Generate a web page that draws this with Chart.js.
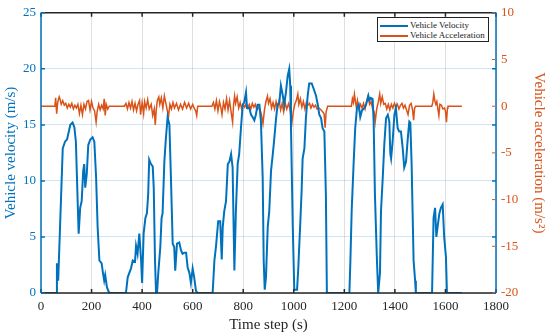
<!DOCTYPE html>
<html>
<head>
<meta charset="utf-8">
<script src="https://cdn.jsdelivr.net/npm/chart.js@4.4.1/dist/chart.umd.min.js"></script>
<style>
  html, body { margin: 0; padding: 0; background: #fff; }
  #wrap { position: relative; width: 550px; height: 336px; }
  #legend {
    position: absolute; left: 377px; top: 17px; width: 110px; height: 23px;
    border: 1px solid #222; background: #fff;
    font-family: "Liberation Serif", "Times New Roman", serif; font-size: 9px; color: #222;
  }
  #legend .row { position: absolute; left: 2px; height: 10px; line-height: 10px; white-space: nowrap; }
  #legend .swatch { display: inline-block; width: 28px; height: 2px; vertical-align: middle; margin-right: 2px; }
</style>
</head>
<body>
<div id="wrap">
  <canvas id="chart" width="550" height="336"></canvas>
  <div id="legend">
    <div class="row" style="top:2px"><span class="swatch" style="background:#0072BD"></span>Vehicle Velocity</div>
    <div class="row" style="top:12px"><span class="swatch" style="background:#D95319"></span>Vehicle Acceleration</div>
  </div>
</div>
<script>
const blue = '#0072BD';
const orange = '#D95319';

// x axis tick labels (time step, s)
const xTicks = [0, 200, 400, 600, 800, 1000, 1200, 1400, 1600, 1800];
const velocityTicks = [0, 5, 10, 15, 20, 25];
const accelTicks = [-20, -15, -10, -5, 0, 5, 10];

// vehicle velocity (m/s), [time, value]
const velocity = [
  [0,0],[61,0],[63,2.65],[68,1.1],[86,12.9],[95,13.5],[103,13.7],[116,15.0],[125,15.2],[132,14.8],
  [138,13.5],[145,8.2],[149,5.3],[155,7.6],[161,8.2],[167,10.9],[171,11.5],[175,9.4],[181,10.6],
  [187,13.2],[195,13.7],[204,13.9],[211,13.5],[218,10.3],[224,5.9],[231,2.9],[240,2.65],[245,1.8],
  [250,1.1],[254,1.6],[261,0.5],[270,0],[336,0],[343,1.4],[356,2.2],[363,2.9],[372,2.8],[376,4.2],
  [382,3.5],[389,5.3],[396,2.9],[400,0.9],[406,5.3],[413,6.7],[419,7.1],[424,8.8],[428,11.9],
  [435,11.5],[442,11.3],[446,9.4],[451,2.9],[455,0.1],[459,0],[464,1.8],[472,4.1],[477,6.7],
  [481,7.1],[488,11.7],[494,13.8],[501,15.7],[508,15.0],[514,10.3],[521,4.4],[527,4.1],[531,2.0],
  [538,4.4],[547,4.5],[554,3.8],[560,3.5],[567,3.6],[574,3.6],[580,2.3],[587,1.8],[593,0.9],
  [600,2.2],[606,1.4],[613,0.2],[620,0],[679,0],[686,2.9],[692,4.1],[701,6.4],[709,6.4],[715,3.0],
  [719,5.9],[725,7.3],[732,8.2],[739,11.5],[745,11.7],[752,12.4],[758,11.2],[765,2.0],[771,7.3],
  [778,11.5],[784,12.4],[791,14.7],[798,16.8],[804,17.0],[811,17.9],[815,16.5],[824,16.5],
  [831,15.9],[837,15.7],[844,15.4],[850,15.9],[857,16.8],[864,16.8],[870,15.3],[877,10.3],
  [881,2.9],[885,0.3],[890,1.4],[897,5.9],[903,7.3],[910,10.9],[917,12.4],[923,13.8],[930,15.6],
  [936,16.8],[943,17.0],[949,18.5],[956,17.7],[962,16.8],[969,17.9],[976,19.4],[982,20.0],
  [986,18.5],[989,14.7],[996,5.9],[1002,0.3],[1013,0.3],[1018,2.3],[1026,6.4],[1031,9.1],
  [1035,12.0],[1042,12.9],[1048,15.6],[1055,17.6],[1061,18.7],[1071,18.7],[1079,18.2],[1088,17.6],
  [1095,16.8],[1101,15.9],[1108,15.6],[1114,14.7],[1121,14.4],[1127,8.8],[1131,0],[1220,0],
  [1224,2.9],[1229,7.3],[1237,11.7],[1243,14.7],[1250,16.5],[1257,16.8],[1263,15.7],[1270,16.3],
  [1279,16.5],[1286,16.8],[1295,17.6],[1299,17.2],[1305,17.4],[1312,17.3],[1316,15.3],[1321,8.8],
  [1329,2.9],[1334,0],[1341,1.8],[1345,7.3],[1352,10.3],[1358,13.2],[1365,15.6],[1372,15.9],
  [1378,15.3],[1382,12.4],[1385,12.0],[1391,13.5],[1398,15.9],[1404,16.5],[1411,14.7],[1417,14.4],
  [1424,14.4],[1431,12.9],[1437,11.2],[1444,11.7],[1451,13.8],[1457,15.3],[1461,15.2],[1466,11.7],
  [1470,7.3],[1474,2.9],[1480,1.1],[1483,0],[1547,0],[1553,6.7],[1559,7.6],[1564,5.0],[1569,5.9],
  [1576,7.1],[1582,7.6],[1589,7.9],[1595,5.0],[1602,3.2],[1606,0],[1665,0]
];

// vehicle acceleration (m/s^2), [time, value]
const acceleration = [
  [0,0],[55,0],[58,0.9],[62,-0.8],[66,0.4],[72,1.0],[76,0.7],[80,0.2],[86,0.6],[92,0.1],[98,0.3],
  [104,-0.2],[110,0.2],[116,-0.1],[122,0.3],[128,-0.3],[134,0.1],[140,-0.2],[146,0.2],[152,-0.8],
  [158,0.1],[164,-0.9],[170,0.2],[176,-0.3],[182,0.5],[188,0.6],[194,-0.4],[200,0.5],[206,-0.2],
  [212,-0.5],[218,-1.7],[222,-0.6],[228,0.2],[234,-0.4],[240,0.1],[246,-0.3],[250,0.8],[254,-1.0],
  [258,0.2],[264,-0.3],[270,0],[330,0],[336,0.3],[342,-0.3],[348,0.4],[354,-0.2],[360,0.5],
  [366,-0.4],[372,0.3],[378,-0.5],[384,0.2],[390,0.6],[394,-0.9],[400,0.4],[406,-0.8],[410,0.5],
  [416,-0.2],[422,0.7],[428,-0.3],[436,0.2],[442,-1.0],[448,-0.3],[452,-2.0],[456,-0.4],[460,0.6],
  [466,1.0],[470,0.2],[476,0.9],[482,-0.2],[488,1.1],[494,0.3],[500,-0.5],[504,-1.2],[510,0.2],
  [516,-0.3],[522,0.4],[528,-0.2],[536,0.3],[544,-0.4],[552,0.2],[560,-0.3],[568,0.4],[576,-0.2],
  [584,0.3],[592,-0.3],[600,0.2],[606,-0.2],[612,-0.5],[616,-1.0],[620,0],[676,0],[682,0.4],
  [688,-0.3],[694,0.6],[700,-0.5],[706,0.5],[712,-0.2],[716,-0.9],[722,0.4],[728,-0.3],[734,0.8],
  [740,-0.4],[746,0.6],[752,-0.6],[758,-1.7],[762,0.2],[766,1.1],[770,0.3],[776,1.0],[782,-0.2],
  [788,0.4],[794,-0.3],[800,0.2],[806,-0.1],[812,0.3],[818,-0.2],[824,0.2],[830,-0.3],[836,0.3],
  [842,-0.1],[848,0.2],[854,-0.4],[860,-0.2],[866,-0.3],[872,-0.9],[878,-1.9],[884,-0.4],[890,0.5],
  [896,1.1],[900,0.3],[906,0.8],[912,-0.2],[918,0.4],[924,-0.3],[930,0.5],[936,-0.2],[942,0.6],
  [948,-0.4],[954,0.3],[960,-0.6],[966,0.4],[972,-0.3],[980,0.3],[986,-0.5],[992,-1.9],[998,-0.6],
  [1004,0.2],[1010,0.6],[1016,1.3],[1020,0.2],[1026,0.8],[1032,-0.1],[1038,0.5],[1044,-0.3],
  [1050,0.4],[1056,0.1],[1062,0.3],[1068,-0.2],[1074,0.2],[1080,-0.1],[1086,0.1],[1092,-0.3],
  [1100,-0.2],[1108,-0.4],[1114,-0.6],[1120,-0.8],[1124,-2.3],[1128,-0.6],[1134,0],[1228,0],
  [1232,0.8],[1236,0.4],[1240,1.3],[1244,0.5],[1248,-0.2],[1252,0.6],[1258,-0.3],[1264,0.2],
  [1270,-0.2],[1276,0.3],[1282,-0.3],[1288,0.5],[1294,1.1],[1300,0.2],[1306,0.5],[1312,-0.3],
  [1318,-0.6],[1322,-1.7],[1328,-0.3],[1334,0.4],[1340,1.3],[1344,0.3],[1350,1.0],[1356,0.2],
  [1362,0.3],[1368,-0.3],[1374,0.2],[1380,-0.4],[1386,0.2],[1392,-0.2],[1398,0.3],[1404,-0.1],
  [1410,0.2],[1416,-0.3],[1422,0.1],[1428,0.3],[1434,-0.2],[1440,0.1],[1446,-0.4],[1452,-0.9],
  [1458,0.1],[1464,0.3],[1470,-0.4],[1474,-1.5],[1478,-0.2],[1482,0],[1546,0],[1550,0.4],
  [1554,1.3],[1558,0.6],[1562,0.2],[1566,0.5],[1570,-0.3],[1574,-1.0],[1578,0.2],[1584,0.1],
  [1590,-0.3],[1596,-0.2],[1600,-0.5],[1604,-1.7],[1608,-0.2],[1610,0],[1665,0]
];

const serif = "'Liberation Serif', 'Times New Roman', serif";
const plain = v => String(v);

// box round the plot, with the ticks pointing inward like the original
const framePlugin = {
  id: 'frame',
  afterDraw(chart) {
    const { ctx, chartArea: a, scales } = chart;
    ctx.save();
    ctx.lineWidth = 1.5;

    ctx.strokeStyle = '#262626';
    ctx.beginPath();
    ctx.moveTo(a.left, a.top); ctx.lineTo(a.right, a.top);
    ctx.moveTo(a.left, a.bottom); ctx.lineTo(a.right, a.bottom);
    xTicks.forEach(v => {
      const px = scales.x.getPixelForValue(v);
      ctx.moveTo(px, a.bottom); ctx.lineTo(px, a.bottom - 4);
      ctx.moveTo(px, a.top); ctx.lineTo(px, a.top + 4);
    });
    ctx.stroke();

    ctx.strokeStyle = blue;
    ctx.beginPath();
    ctx.moveTo(a.left, a.top); ctx.lineTo(a.left, a.bottom);
    ctx.moveTo(a.right, a.top); ctx.lineTo(a.right, a.bottom);
    velocityTicks.forEach(v => {
      const py = scales.y.getPixelForValue(v);
      ctx.moveTo(a.left, py); ctx.lineTo(a.left + 4, py);
      ctx.moveTo(a.right, py); ctx.lineTo(a.right - 4, py);
    });
    ctx.stroke();

    ctx.strokeStyle = orange;
    ctx.lineWidth = 1;
    ctx.beginPath();
    accelTicks.forEach(v => {
      const py = scales.y1.getPixelForValue(v);
      ctx.moveTo(a.right - 1, py); ctx.lineTo(a.right - 4, py);
    });
    ctx.stroke();
    ctx.restore();
  }
};

new Chart(document.getElementById('chart'), {
  type: 'line',
  data: {
    datasets: [
      {
        label: 'Vehicle Velocity',
        data: velocity.map(p => ({ x: p[0], y: p[1] })),
        borderColor: blue,
        borderWidth: 2,
        pointRadius: 0,
        tension: 0,
        yAxisID: 'y',
        order: 1
      },
      {
        label: 'Vehicle Acceleration',
        data: acceleration.map(p => ({ x: p[0], y: p[1] })),
        borderColor: orange,
        borderWidth: 1.5,
        pointRadius: 0,
        tension: 0,
        yAxisID: 'y1',
        order: 2
      }
    ]
  },
  options: {
    responsive: false,
    animation: false,
    devicePixelRatio: 1,
    layout: { padding: { top: 10, left: 0, right: 0, bottom: 0 } },
    plugins: { legend: { display: false }, tooltip: { enabled: false } },
    scales: {
      x: {
        type: 'linear',
        min: 0, max: 1800,
        afterBuildTicks: s => { s.ticks = xTicks.map(v => ({ value: v })); },
        afterFit: s => { s.height = 43; },
        grid: { color: 'rgba(38,38,38,0.15)', lineWidth: 1, drawTicks: false },
        border: { display: false },
        ticks: { color: '#262626', font: { family: serif, size: 13 }, padding: 6, maxRotation: 0, callback: plain },
        title: { display: true, text: 'Time step (s)', color: '#262626', font: { family: serif, size: 15 }, padding: { top: 0, bottom: 2 } }
      },
      y: {
        position: 'left',
        min: 0, max: 25,
        afterBuildTicks: s => { s.ticks = velocityTicks.map(v => ({ value: v })); },
        afterFit: s => { s.width = 41; },
        grid: { color: 'rgba(0,114,189,0.18)', lineWidth: 1, drawTicks: false },
        border: { display: false },
        ticks: { color: blue, font: { family: serif, size: 13 }, padding: 5, callback: plain },
        title: { display: true, text: 'Vehicle velocity (m/s)', color: blue, font: { family: serif, size: 15 }, padding: { top: 2, bottom: 0 } }
      },
      y1: {
        position: 'right',
        min: -20, max: 10,
        afterBuildTicks: s => { s.ticks = accelTicks.map(v => ({ value: v })); },
        afterFit: s => { s.width = 54; },
        grid: { display: false, drawTicks: false },
        border: { display: false },
        ticks: { color: orange, font: { family: serif, size: 13 }, padding: 5, callback: plain },
        title: { display: true, text: 'Vehicle acceleration (m/s²)', color: orange, font: { family: serif, size: 15 }, padding: { top: 2, bottom: 0 } }
      }
    }
  },
  plugins: [framePlugin]
});
</script>
</body>
</html>
